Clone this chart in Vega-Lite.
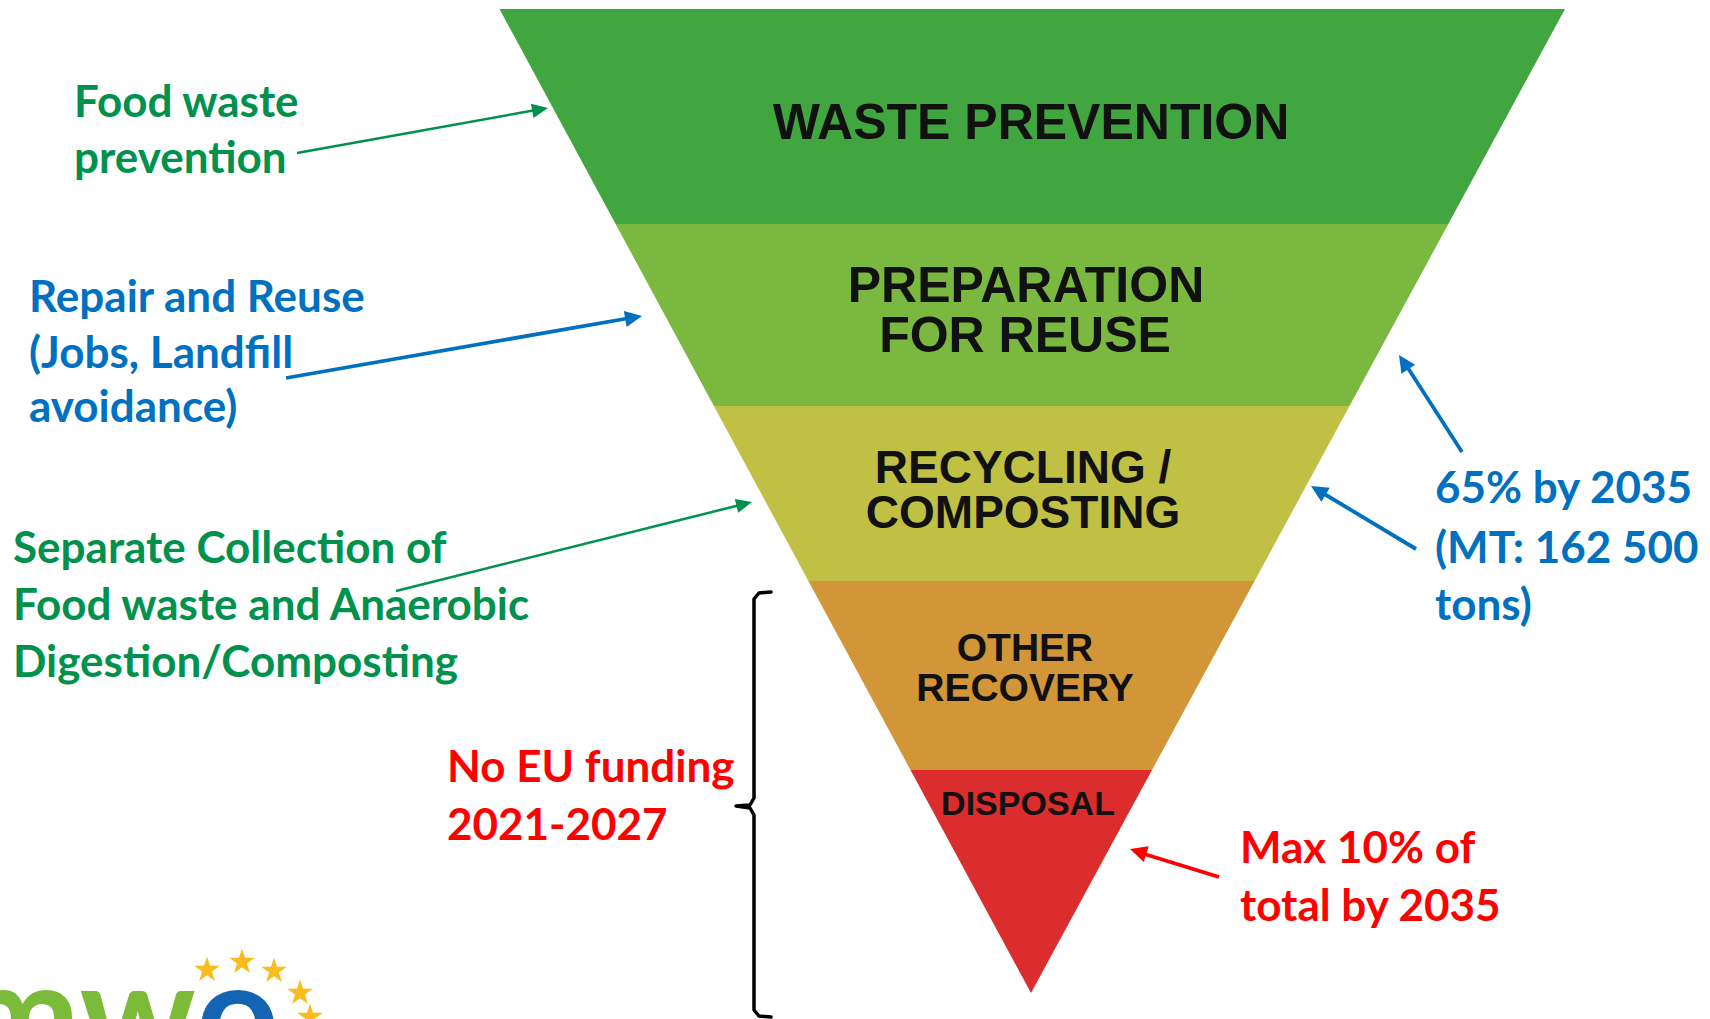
{
  "$schema": "https://vega.github.io/schema/vega-lite/v6.json",
  "width": 1710,
  "height": 1019,
  "autosize": {"type": "none"},
  "padding": 0,
  "background": "white",
  "config": {"view": {"stroke": null}},
  "resolve": {"scale": {"color": "independent"}},
  "datasets": {
    "bands": [
      {"band": "Waste prevention", "y": 9, "xl": 499.5, "xr": 1565},
      {"band": "Waste prevention", "y": 224, "xl": 615.6, "xr": 1448.3},
      {"band": "Preparation for reuse", "y": 224, "xl": 615.6, "xr": 1448.3},
      {"band": "Preparation for reuse", "y": 406, "xl": 713.9, "xr": 1349.5},
      {"band": "Recycling / composting", "y": 406, "xl": 713.9, "xr": 1349.5},
      {"band": "Recycling / composting", "y": 581, "xl": 808.4, "xr": 1254.6},
      {"band": "Other recovery", "y": 581, "xl": 808.4, "xr": 1254.6},
      {"band": "Other recovery", "y": 770, "xl": 910.5, "xr": 1152.0},
      {"band": "Disposal", "y": 770, "xl": 910.5, "xr": 1152.0},
      {"band": "Disposal", "y": 993, "xl": 1031, "xr": 1031}
    ],
    "bandLabels": [
      {"band": "Waste prevention", "text": "WASTE PREVENTION", "x": 1031, "y": 124},
      {"band": "Preparation for reuse", "text": "PREPARATION", "x": 1026, "y": 287},
      {"band": "Preparation for reuse", "text": "FOR REUSE", "x": 1025, "y": 337},
      {"band": "Recycling / composting", "text": "RECYCLING /", "x": 1023, "y": 469},
      {"band": "Recycling / composting", "text": "COMPOSTING", "x": 1023, "y": 514},
      {"band": "Other recovery", "text": "OTHER", "x": 1025, "y": 649},
      {"band": "Other recovery", "text": "RECOVERY", "x": 1025, "y": 689},
      {"band": "Disposal", "text": "DISPOSAL", "x": 1028, "y": 805}
    ],
    "notes": [
      {"text": "Food waste", "x": 74, "y": 117, "group": "green"},
      {"text": "prevention", "x": 74, "y": 173, "group": "green"},
      {"text": "Repair and Reuse", "x": 29, "y": 312, "group": "blue"},
      {"text": "(Jobs, Landfill", "x": 29, "y": 368, "group": "blue"},
      {"text": "avoidance)", "x": 29, "y": 422, "group": "blue"},
      {"text": "Separate Collection of", "x": 13, "y": 563, "group": "green"},
      {"text": "Food waste and Anaerobic", "x": 13, "y": 620, "group": "green"},
      {"text": "Digestion/Composting", "x": 13, "y": 677, "group": "green"},
      {"text": "No EU funding", "x": 447, "y": 782, "group": "red"},
      {"text": "2021-2027", "x": 447, "y": 840, "group": "red"},
      {"text": "65% by 2035", "x": 1435, "y": 503, "group": "blue"},
      {"text": "(MT: 162 500", "x": 1435, "y": 563, "group": "blue"},
      {"text": "tons)", "x": 1435, "y": 620, "group": "blue"},
      {"text": "Max 10% of", "x": 1240, "y": 863, "group": "red"},
      {"text": "total by 2035", "x": 1240, "y": 921, "group": "red"}
    ],
    "arrows": [
      {"id": "a1", "group": "green", "x": 297, "y": 153, "lx": 536, "ly": 110, "tx": 548, "ty": 108},
      {"id": "a2", "group": "blue", "x": 286, "y": 378, "lx": 630, "ly": 318, "tx": 642, "ty": 316},
      {"id": "a3", "group": "green", "x": 396, "y": 591, "lx": 740, "ly": 505, "tx": 752, "ty": 502},
      {"id": "a4", "group": "blue", "x": 1462, "y": 452, "lx": 1406, "ly": 365, "tx": 1399, "ty": 355},
      {"id": "a5", "group": "blue", "x": 1416, "y": 549, "lx": 1321, "ly": 492, "tx": 1311, "ty": 486},
      {"id": "a6", "group": "red", "x": 1219, "y": 877, "lx": 1141, "ly": 853, "tx": 1130, "ty": 849}
    ],
    "brace": [
      {"i": 0, "x": 771, "y": 592},
      {"i": 1, "x": 759, "y": 593},
      {"i": 2, "x": 754, "y": 599},
      {"i": 3, "x": 754, "y": 798},
      {"i": 4, "x": 750, "y": 805},
      {"i": 5, "x": 736, "y": 806},
      {"i": 6, "x": 750, "y": 808},
      {"i": 7, "x": 754, "y": 815},
      {"i": 8, "x": 754, "y": 1010},
      {"i": 9, "x": 759, "y": 1016},
      {"i": 10, "x": 771, "y": 1017}
    ],
    "stars": [
      {"x": 207, "y": 970},
      {"x": 242, "y": 962},
      {"x": 274, "y": 971},
      {"x": 300, "y": 993},
      {"x": 310, "y": 1017}
    ],
    "logo": [
      {"t": "mw", "x": 196, "y": 1066, "part": "green"},
      {"t": "o", "x": 196, "y": 1066, "part": "blue"}
    ]
  },
  "encoding": {
    "x": {"type": "quantitative", "scale": {"domain": [0, 1710], "nice": false, "zero": false}, "axis": null},
    "y": {"type": "quantitative", "scale": {"domain": [0, 1019], "reverse": true, "nice": false, "zero": false}, "axis": null}
  },
  "layer": [
    {
      "data": {"name": "bands"},
      "mark": {"type": "area", "orient": "horizontal"},
      "encoding": {
        "y": {"field": "y", "type": "quantitative"},
        "x": {"field": "xl", "type": "quantitative", "stack": null},
        "x2": {"field": "xr"},
        "color": {
          "field": "band", "type": "nominal", "legend": null,
          "scale": {
            "domain": ["Waste prevention", "Preparation for reuse", "Recycling / composting", "Other recovery", "Disposal"],
            "range": ["#41A63F", "#7AB83F", "#C0C044", "#D29538", "#DB2D2D"]
          }
        }
      }
    },
    {
      "data": {"name": "bandLabels"},
      "transform": [{"filter": "datum.band === 'Waste prevention' || datum.band === 'Preparation for reuse'"}],
      "mark": {"type": "text", "font": "Liberation Sans", "fontWeight": "bold", "fontSize": 50, "baseline": "middle", "align": "center", "color": "#111111"},
      "encoding": {"x": {"field": "x", "type": "quantitative"}, "y": {"field": "y", "type": "quantitative"}, "text": {"field": "text"}}
    },
    {
      "data": {"name": "bandLabels"},
      "transform": [{"filter": "datum.band === 'Recycling / composting'"}],
      "mark": {"type": "text", "font": "Liberation Sans", "fontWeight": "bold", "fontSize": 46, "baseline": "middle", "align": "center", "color": "#111111"},
      "encoding": {"x": {"field": "x", "type": "quantitative"}, "y": {"field": "y", "type": "quantitative"}, "text": {"field": "text"}}
    },
    {
      "data": {"name": "bandLabels"},
      "transform": [{"filter": "datum.band === 'Other recovery'"}],
      "mark": {"type": "text", "font": "Liberation Sans", "fontWeight": "bold", "fontSize": 39, "baseline": "middle", "align": "center", "color": "#111111"},
      "encoding": {"x": {"field": "x", "type": "quantitative"}, "y": {"field": "y", "type": "quantitative"}, "text": {"field": "text"}}
    },
    {
      "data": {"name": "bandLabels"},
      "transform": [{"filter": "datum.band === 'Disposal'"}],
      "mark": {"type": "text", "font": "Liberation Sans", "fontWeight": "bold", "fontSize": 34, "baseline": "middle", "align": "center", "color": "#111111"},
      "encoding": {"x": {"field": "x", "type": "quantitative"}, "y": {"field": "y", "type": "quantitative"}, "text": {"field": "text"}}
    },
    {
      "data": {"name": "notes"},
      "mark": {"type": "text", "font": "Lato", "fontWeight": "bold", "fontSize": 44, "baseline": "alphabetic", "align": "left"},
      "encoding": {
        "x": {"field": "x", "type": "quantitative"},
        "y": {"field": "y", "type": "quantitative"},
        "text": {"field": "text"},
        "color": {"field": "group", "type": "nominal", "legend": null, "scale": {"domain": ["green", "blue", "red"], "range": ["#00914C", "#0070C0", "#FF0000"]}}
      }
    },
    {
      "data": {"name": "arrows"},
      "transform": [{"filter": "datum.group === 'green'"}],
      "mark": {"type": "rule", "strokeWidth": 2.5},
      "encoding": {
        "x": {"field": "x", "type": "quantitative"}, "y": {"field": "y", "type": "quantitative"},
        "x2": {"field": "lx"}, "y2": {"field": "ly"},
        "color": {"field": "group", "type": "nominal", "legend": null, "scale": {"domain": ["green", "blue", "red"], "range": ["#00914C", "#0070C0", "#FF0000"]}}
      }
    },
    {
      "data": {"name": "arrows"},
      "transform": [{"filter": "datum.group !== 'green'"}],
      "mark": {"type": "rule", "strokeWidth": 3.8},
      "encoding": {
        "x": {"field": "x", "type": "quantitative"}, "y": {"field": "y", "type": "quantitative"},
        "x2": {"field": "lx"}, "y2": {"field": "ly"},
        "color": {"field": "group", "type": "nominal", "legend": null, "scale": {"domain": ["green", "blue", "red"], "range": ["#00914C", "#0070C0", "#FF0000"]}}
      }
    },
    {
      "data": {"name": "arrows"},
      "transform": [
        {"filter": "datum.group === 'green'"},
        {"calculate": "atan2(datum.tx - datum.x, datum.y - datum.ty) * 180 / PI", "as": "heading"}
      ],
      "mark": {"type": "point", "shape": "M0,0L-0.45,1L0.45,1Z", "filled": true, "opacity": 1, "strokeWidth": 0, "size": 1024},
      "encoding": {
        "x": {"field": "tx", "type": "quantitative"}, "y": {"field": "ty", "type": "quantitative"},
        "angle": {"field": "heading", "type": "quantitative", "scale": null},
        "color": {"field": "group", "type": "nominal", "legend": null, "scale": {"domain": ["green", "blue", "red"], "range": ["#00914C", "#0070C0", "#FF0000"]}}
      }
    },
    {
      "data": {"name": "arrows"},
      "transform": [
        {"filter": "datum.group !== 'green'"},
        {"calculate": "atan2(datum.tx - datum.x, datum.y - datum.ty) * 180 / PI", "as": "heading"}
      ],
      "mark": {"type": "point", "shape": "M0,0L-0.48,1L0.48,1Z", "filled": true, "opacity": 1, "strokeWidth": 0, "size": 1156},
      "encoding": {
        "x": {"field": "tx", "type": "quantitative"}, "y": {"field": "ty", "type": "quantitative"},
        "angle": {"field": "heading", "type": "quantitative", "scale": null},
        "color": {"field": "group", "type": "nominal", "legend": null, "scale": {"domain": ["green", "blue", "red"], "range": ["#00914C", "#0070C0", "#FF0000"]}}
      }
    },
    {
      "data": {"name": "brace"},
      "mark": {"type": "line", "color": "#000000", "strokeWidth": 3.5, "strokeJoin": "round", "strokeCap": "round"},
      "encoding": {
        "x": {"field": "x", "type": "quantitative"},
        "y": {"field": "y", "type": "quantitative"},
        "order": {"field": "i", "type": "quantitative"}
      }
    },
    {
      "data": {"name": "stars"},
      "mark": {"type": "point", "shape": "M0,-1L0.2245,-0.309L0.951,-0.309L0.3633,0.118L0.588,0.809L0,0.382L-0.588,0.809L-0.3633,0.118L-0.951,-0.309L-0.2245,-0.309Z", "filled": true, "opacity": 1, "strokeWidth": 0, "size": 729, "color": "#F8BC1C", "clip": true},
      "encoding": {"x": {"field": "x", "type": "quantitative"}, "y": {"field": "y", "type": "quantitative"}}
    },
    {
      "data": {"name": "logo"},
      "transform": [{"filter": "datum.part === 'green'"}],
      "mark": {"type": "text", "font": "Lato", "fontWeight": "bold", "fontSize": 145, "align": "right", "baseline": "alphabetic", "color": "#7CBB3A", "clip": true},
      "encoding": {"x": {"field": "x", "type": "quantitative"}, "y": {"field": "y", "type": "quantitative"}, "text": {"field": "t"}}
    },
    {
      "data": {"name": "logo"},
      "transform": [{"filter": "datum.part === 'blue'"}],
      "mark": {"type": "text", "font": "Lato", "fontWeight": "bold", "fontSize": 145, "align": "left", "baseline": "alphabetic", "color": "#1464B4", "clip": true},
      "encoding": {"x": {"field": "x", "type": "quantitative"}, "y": {"field": "y", "type": "quantitative"}, "text": {"field": "t"}}
    }
  ]
}
